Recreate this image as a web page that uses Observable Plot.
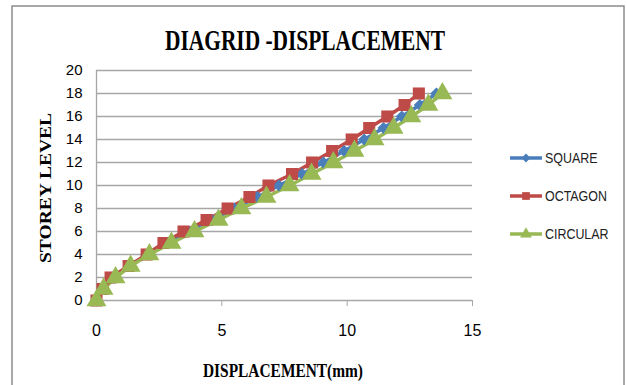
<!DOCTYPE html>
<html><head>
<meta charset="utf-8">
<script src="https://cdn.jsdelivr.net/npm/d3@7"></script>
<script src="https://cdn.jsdelivr.net/npm/@observablehq/plot@0.6"></script>
<style>
body{margin:0;background:#fff}
#c{position:relative;width:627px;height:385px;overflow:hidden}
</style>
</head><body><div id="c"></div>
<script>
const storeys = [0,1,2,3,4,5,6,7,8,9,10,11,12,13,14,15,16,17,18];
const square   = [0,0.26,0.66,1.32,2.05,2.83,3.69,4.62,5.5,6.42,7.28,8.2,9.05,9.88,10.68,11.45,12.18,12.9,13.56];
const octagon  = [0,0.24,0.56,1.28,2.0,2.67,3.47,4.39,5.23,6.1,6.86,7.8,8.6,9.4,10.18,10.88,11.6,12.29,12.86];
const circular = [0,0.28,0.76,1.36,2.11,2.99,3.91,4.87,5.78,6.78,7.7,8.58,9.45,10.29,11.09,11.85,12.56,13.24,13.8];
const seriesNames = ["SQUARE","OCTAGON","CIRCULAR"];
const seriesColors = ["#4a7ebb","#be4b48","#98b954"];
const seriesSymbols = ["diamond2","square","triangle"];
const xTicks = [0,5,10,15];
const yTicks = [0,2,4,6,8,10,12,14,16,18,20];
const title = "DIAGRID -DISPLACEMENT";
const xTitle = "DISPLACEMENT(mm)";
const yTitle = "STOREY LEVEL";

const values = [square, octagon, circular];
const rows = [];
values.forEach((arr, si) => arr.forEach((v, i) => rows.push({series: seriesNames[si], x: v, y: storeys[i]})));

const narrow = "'Liberation Sans Narrow','Arial Narrow','Liberation Sans',sans-serif";
const serif = "'Liberation Serif','Times New Roman',serif";
const gridC = "#a6a6a6";

const marks = [
  Plot.ruleY(yTicks.filter(d => d > 0), {stroke: gridC, strokeWidth: 1.3}),
  Plot.ruleX([0], {stroke: gridC, strokeWidth: 1.3}),
  Plot.ruleY([0], {stroke: gridC, strokeWidth: 1.3}),
  Plot.axisY({ticks: yTicks, tickSize: 0, tickPadding: 14, label: null, fontSize: 15}),
  Plot.axisX({ticks: xTicks, tickSize: 6, tickPadding: 18, label: null, stroke: gridC, fontSize: 16})
];
seriesNames.forEach((name, si) => {
  const d = rows.filter(r => r.series === name);
  marks.push(Plot.line(d, {x: "x", y: "y", stroke: seriesColors[si], strokeWidth: 3.5}));
});
seriesNames.forEach((name, si) => {
  const d = rows.filter(r => r.series === name);
  marks.push(Plot.dot(d, {x: "x", y: "y", fill: seriesColors[si], stroke: "none",
    symbol: seriesSymbols[si], r: si === 0 ? 5.5 : (si === 1 ? 6.8 : 7.4)}));
});

const plot = Plot.plot({
  width: 627, height: 385,
  marginLeft: 96, marginRight: 155, marginTop: 70, marginBottom: 85,
  x: {domain: [0, 15]},
  y: {domain: [0, 20]},
  style: {fontFamily: narrow, color: "#000", background: "#fff"},
  marks
});
document.getElementById("c").appendChild(plot);

const svg = d3.select(plot);
// outer frame
svg.append("rect").attr("x", 12).attr("y", 6).attr("width", 612).attr("height", 390)
  .attr("fill", "none").attr("stroke", "#8c8c8c").attr("stroke-width", 1.5);
// title
svg.append("text").text(title).attr("x", 305).attr("y", 50).attr("text-anchor", "middle")
  .attr("font-family", serif).attr("font-weight", "bold").attr("font-size", 29)
  .attr("textLength", 280).attr("lengthAdjust", "spacingAndGlyphs").attr("fill", "#000");
svg.append("text").text(xTitle).attr("x", 283).attr("y", 377).attr("text-anchor", "middle")
  .attr("font-family", serif).attr("font-weight", "bold").attr("font-size", 18)
  .attr("textLength", 160).attr("lengthAdjust", "spacingAndGlyphs").attr("fill", "#000");
svg.append("text").text(yTitle).attr("transform", "translate(51,188) rotate(-90)").attr("text-anchor", "middle")
  .attr("font-family", serif).attr("font-weight", "bold").attr("font-size", 17)
  .attr("textLength", 150).attr("lengthAdjust", "spacingAndGlyphs").attr("fill", "#000");
// legend
const legY = [158, 196, 234];
const symMap = {diamond2: d3.symbolDiamond2, square: d3.symbolSquare, triangle: d3.symbolTriangle};
seriesNames.forEach((name, si) => {
  const g = svg.append("g").attr("transform", `translate(0,${legY[si]})`);
  g.append("line").attr("x1", 510).attr("x2", 542).attr("y1", 0).attr("y2", 0)
    .attr("stroke", seriesColors[si]).attr("stroke-width", 3.5);
  g.append("path").attr("transform", "translate(526,0)")
    .attr("d", d3.symbol(symMap[seriesSymbols[si]], si === 0 ? 50 : 60)())
    .attr("fill", seriesColors[si]);
  g.append("text").text(name).attr("transform", "translate(545,0) scale(0.83,1)").attr("dy", "0.35em")
    .attr("text-anchor", "start")
    .attr("font-family", narrow).attr("font-size", 15).attr("fill", "#222");
});
</script>
</body></html>
